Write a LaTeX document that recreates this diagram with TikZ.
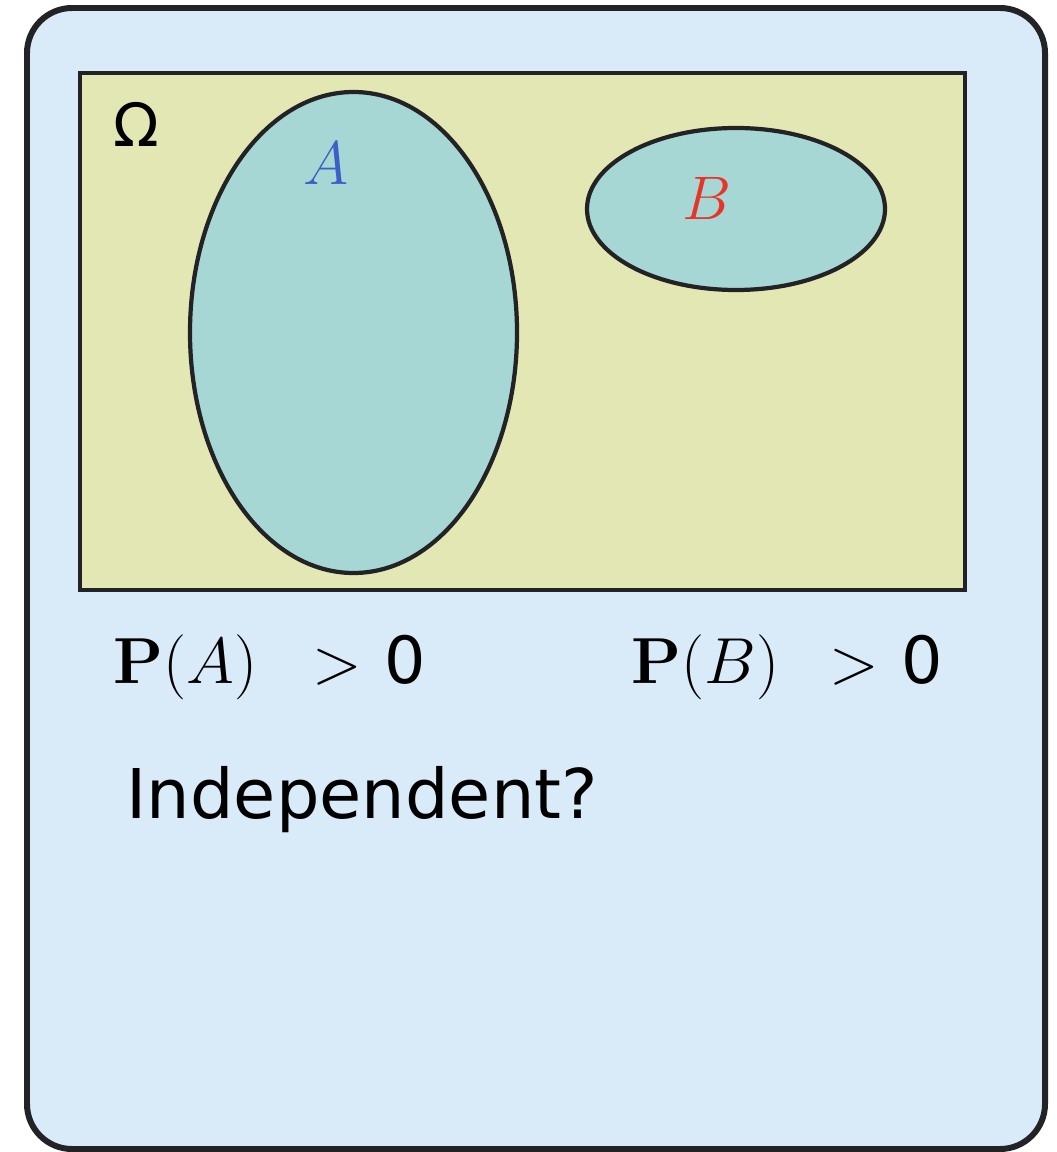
\RequirePackage{fix-cm}
\documentclass[tikz,border=0pt]{standalone}
\usepackage[no-math]{fontspec}
\setmainfont{DejaVu Sans}
\usepackage{tikz}

\definecolor{cardblue}{RGB}{217,234,248}
\definecolor{omegafill}{RGB}{226,231,180}
\definecolor{setfill}{RGB}{166,215,213}
\definecolor{inkline}{RGB}{35,35,38}
\definecolor{labelA}{RGB}{60,95,200}
\definecolor{labelB}{RGB}{232,52,40}

\begin{document}
\begin{tikzpicture}[
    x=0.01cm, y=-0.01cm,
    card/.style={draw=inkline, fill=cardblue, line width=1.7pt, rounded corners=0.45cm},
    space/.style={draw=inkline, fill=omegafill, line width=1.3pt},
    eventset/.style={draw=inkline, fill=setfill, line width=1.2pt},
    setlabel/.style={font=\fontsize{17.5}{20}\selectfont},
    probtext/.style={anchor=base west, inner sep=0pt, font=\fontsize{18.5}{22}\selectfont}
]

    \useasboundingbox (0,0) rectangle (1056,1152);

    % Card background
    \draw[card] (27,8) rectangle (1045,1149);

    % Sample space
    \draw[space] (80,73) rectangle (965,590);
    \node[anchor=base west, inner sep=0pt, font=\fontsize{17}{19}\selectfont] (omega) at (113,147) {Ω};

    % Events A and B
    \draw[eventset] (353.5,332.5) ellipse (163.5 and 240.5);
    \draw[eventset] (736,209) ellipse (149 and 81);
    \node[setlabel, text=labelA] (labA) at (326,163) {$A$};
    \node[setlabel, text=labelB] (labB) at (707,198) {$B$};

    % Probabilities
    \node[probtext] (probA) at (113,683) {$\mathbf{P}(A)$\hspace{0.55cm}$>$\hspace{0.22cm}0};
    \node[probtext] (probB) at (631,683) {$\mathbf{P}(B)$\hspace{0.5cm}$>$\hspace{0.22cm}0};

    % Question
    \node[probtext, font=\fontsize{19.5}{22}\selectfont] (quest) at (126,818) {Independent?};

\end{tikzpicture}
\end{document}
